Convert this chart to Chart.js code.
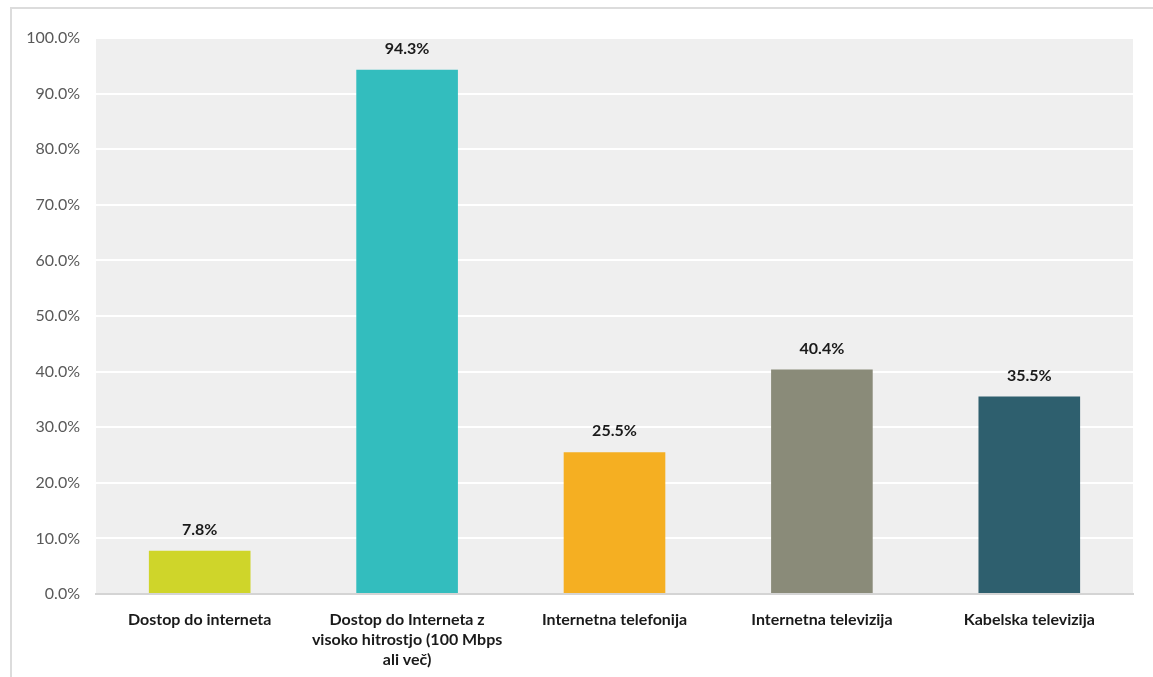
<!DOCTYPE html>
<html>
<head>
<meta charset="utf-8">
<script src="https://cdn.jsdelivr.net/npm/chart.js@4/dist/chart.umd.min.js"></script>
<style>
  body { margin: 0; background: #fff; }
  #okvir { position: absolute; left: 10px; top: 7px; width: 1160px; height: 690px;
           border-left: 2px solid #dcdcdc; border-top: 2px solid #dcdcdc; }
  canvas { position: absolute; left: 0; top: 0; }
</style>
</head>
<body>
<div id="okvir"></div>
<canvas id="stolpci" width="1153" height="677"></canvas>
<script>
const kategorije = [
    "Dostop do interneta",
    ["Dostop do Interneta z", "visoko hitrostjo (100 Mbps", "ali več)"],
    "Internetna telefonija",
    "Internetna televizija",
    "Kabelska televizija"
];
const vrednosti = [7.8, 94.3, 25.5, 40.4, 35.5];
const barve = ["#CFD52A", "#33BDBE", "#F5AF22", "#8A8B79", "#2E5F6E"];

// sivo ozadje risalne površine
const ozadje = {
    id: "ozadje",
    beforeDraw(chart) {
        const { ctx, chartArea: a } = chart;
        ctx.save();
        ctx.fillStyle = "#efefef";
        ctx.fillRect(a.left, a.top, a.right - a.left, a.bottom - a.top);
        ctx.restore();
    }
};

// vrednosti nad stolpci
const oznake = {
    id: "oznake",
    afterDatasetsDraw(chart) {
        const ctx = chart.ctx;
        ctx.save();
        ctx.font = "bold 16px Lato";
        ctx.fillStyle = "#1a1a1a";
        ctx.textAlign = "center";
        ctx.textBaseline = "bottom";
        chart.getDatasetMeta(0).data.forEach((bar, i) => {
            ctx.fillText(vrednosti[i].toFixed(1) + "%", bar.x, bar.y - 13);
        });
        ctx.restore();
    }
};

function cargaGraficoBarras() {
    const config = {
        type: "bar",
        data: {
            labels: kategorije,
            datasets: [{
                data: vrednosti,
                backgroundColor: barve,
                barPercentage: 0.49,
                categoryPercentage: 1
            }]
        },
        options: {
            responsive: false,
            animation: false,
            layout: { padding: { top: 38, right: 20, left: 0, bottom: 0 } },
            plugins: { legend: { display: false }, tooltip: { enabled: false } },
            scales: {
                x: {
                    grid: { display: false },
                    border: { color: "#d4d4d4", width: 2 },
                    ticks: {
                        color: "#1a1a1a",
                        font: { family: "Lato", size: 16, weight: "bold", lineHeight: 1.25 },
                        padding: 8,
                        maxRotation: 0,
                        autoSkip: false
                    },
                    afterFit(s) { s.height = 83; }
                },
                y: {
                    min: 0,
                    max: 100,
                    ticks: {
                        stepSize: 10,
                        padding: 16,
                        color: "#595959",
                        font: { family: "Lato", size: 16 },
                        callback: v => v.toFixed(1) + "%"
                    },
                    grid: { color: "#ffffff", lineWidth: 2, drawTicks: false },
                    border: { display: false },
                    afterFit(s) { s.width = 96; }
                }
            }
        },
        plugins: [ozadje, oznake]
    };

    const ctx = document.getElementById("stolpci").getContext("2d");
    new Chart(ctx, config);
}
cargaGraficoBarras();
</script>
</body>
</html>
